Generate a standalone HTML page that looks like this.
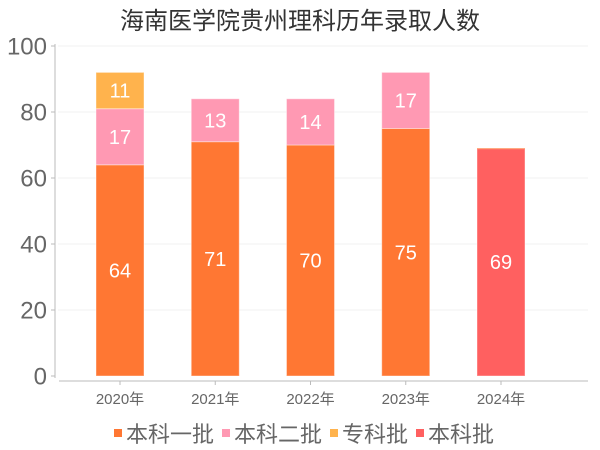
<!DOCTYPE html>
<html><head><meta charset="utf-8">
<style>
html,body{margin:0;padding:0;background:#fff;}
svg{display:block;font-family:"Liberation Sans","Noto Sans CJK SC",sans-serif;}
</style></head>
<body>
<svg id="chart" width="600" height="450" viewBox="0 0 600 450">
  <text x="300" y="29" text-anchor="middle" font-size="24" fill="#333">海南医学院贵州理科历年录取人数</text>
  <g id="grid"></g>
  <g id="bars"></g>
  <g id="axes"></g>
  <g id="legend"></g>
</svg>
<script>
const categories = ["2020年","2021年","2022年","2023年","2024年"];
const seriesNames = ["本科一批","本科二批","专科批","本科批"];
const seriesColors = ["#ff7733","#ff99b3","#ffb34d","#ff6060"];
const batch1 = [64,71,70,75,0];
const batch2 = [17,13,14,17,0];
const zhuanke = [11,0,0,0,0];
const benke = [0,0,0,0,69];
const yTicks = [0,20,40,60,80,100];

const svg = document.getElementById('chart');
const NS = 'http://www.w3.org/2000/svg';
const y0 = 376, y100 = 46;
const yScale = v => y0 - (v/100)*(y0-y100);
const xCenter = i => 120 + i*95.25;
const barW = 48;
function mk(tag, attrs, parent){const e=document.createElementNS(NS,tag);for(const k in attrs)e.setAttribute(k,attrs[k]);parent.appendChild(e);return e;}

const grid = document.getElementById('grid');
const axes = document.getElementById('axes');
yTicks.forEach(t=>{
  const y=yScale(t);
  if(t>0){const g=mk('line',{x1:58,x2:588,y1:y,y2:y,stroke:'#f2f2f2','stroke-width':1},grid);
  
  }
  const tk=mk('line',{x1:51,x2:55,y1:y,y2:y,stroke:'#bbb'},axes);
  
  
  const lb=mk('text',{x:47,y:y+8.5,'text-anchor':'end','font-size':24,fill:'#666'},axes);
  lb.textContent=t;
  
  
});
const ya=mk('line',{x1:55,x2:55,y1:44,y2:378,stroke:'#bbb'},axes);


const xa=mk('line',{x1:59,x2:588,y1:381,y2:381,stroke:'#bbb'},axes);



const bars = document.getElementById('bars');
const series = [batch1,batch2,zhuanke,benke];
categories.forEach((c,i)=>{
  let acc=0;
  series.forEach((s,si)=>{
    const v=s[i]; if(!v) return;
    const yt=yScale(acc+v), yb=yScale(acc);
    const r=mk('rect',{x:xCenter(i)-barW/2,y:yt,width:barW,height:yb-yt,fill:seriesColors[si],stroke:'rgba(255,255,255,0.4)','stroke-width':1},bars);
    
    
    const t=mk('text',{x:xCenter(i),y:(yt+yb)/2+7,'text-anchor':'middle','font-size':20,fill:'#fff'},bars);
    t.textContent=v;
    
    
    acc+=v;
  });
  if(benke[i]){
    const top=mk('line',{x1:xCenter(i)-barW/2,x2:xCenter(i)+barW/2,y1:yScale(acc)+0.5,y2:yScale(acc)+0.5,stroke:'#ff9966','stroke-width':1},bars);
    
    
  }
  const tk=mk('line',{x1:xCenter(i),x2:xCenter(i),y1:381,y2:385,stroke:'#bbb'},axes);
  
  
  const lb=mk('text',{x:xCenter(i),y:404,'text-anchor':'middle','font-size':15,fill:'#666'},axes);
  lb.textContent=c;
  
  
});

const legend = document.getElementById('legend');
let lx=114;
seriesNames.forEach((n,i)=>{
  const g=mk('g',{},legend);
  
  
  mk('rect',{x:lx,y:429,width:8,height:8,fill:seriesColors[i]},g);
  const t=mk('text',{x:lx+12,y:442,'font-size':22,fill:'#666'},g);
  t.textContent=n;
  lx += 12 + n.length*22 + 8;
});
</script>
</body></html>
